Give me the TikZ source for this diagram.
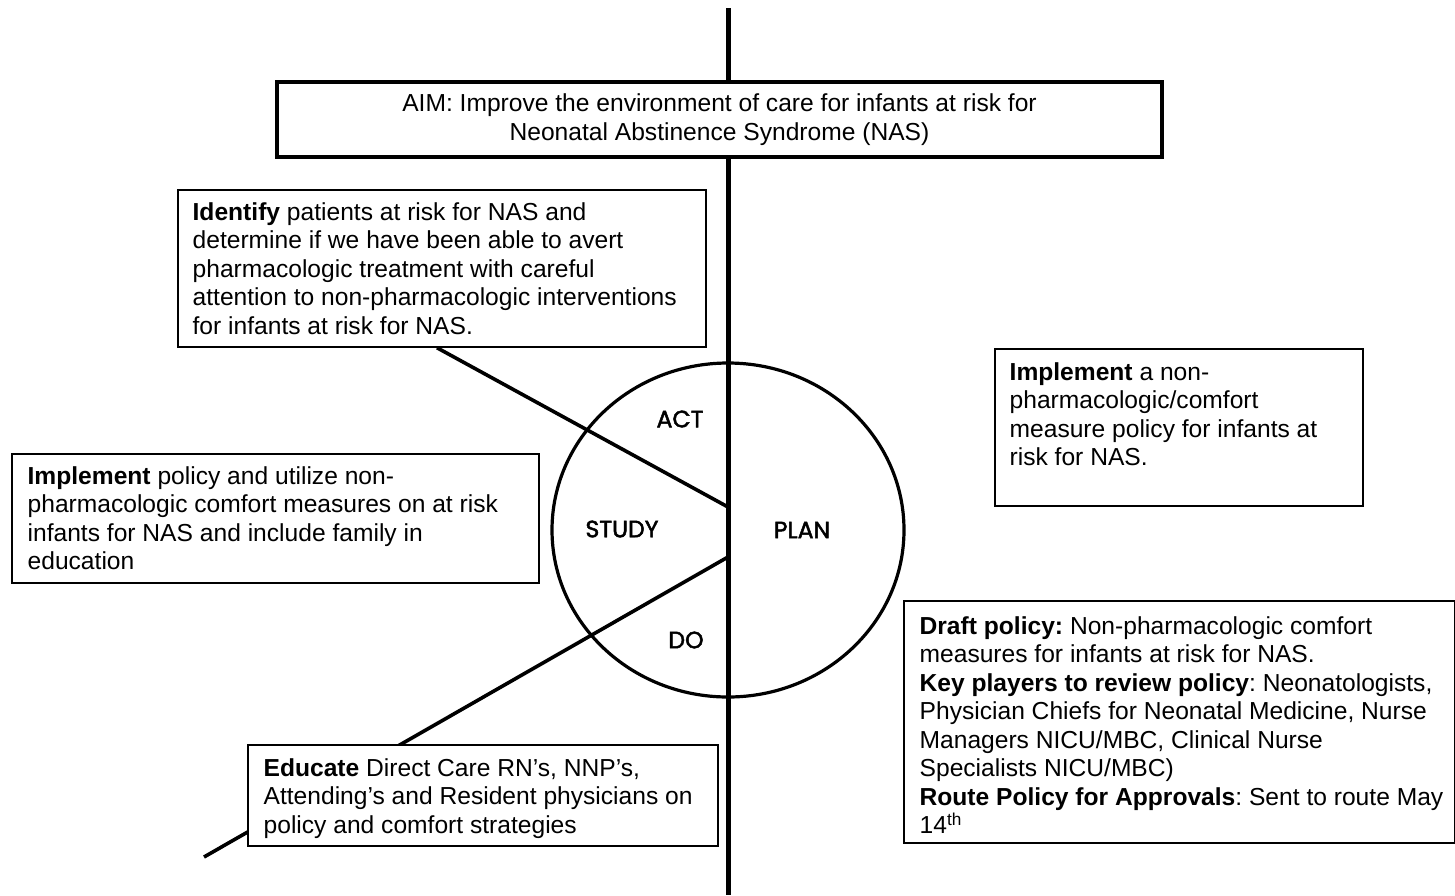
\documentclass[tikz,border=0pt]{standalone}
\usepackage{fontspec}
\setmainfont{Liberation Sans}
\newfontfamily\cyclefont[FakeBold=2]{Poppins}
\usetikzlibrary{positioning,fit}
\frenchspacing

\tikzset{
  box/.style={draw, line width=0.75pt, fill=white, inner sep=0pt},
  boxtext/.style={inner sep=0pt, align=left, font=\fontsize{12.3}{14.25}\selectfont},
  phase/.style={font=\cyclefont\fontsize{11.8}{13}\selectfont},
}

\begin{document}
\begin{tikzpicture}[x=0.5pt,y=-0.5pt]
    \useasboundingbox (0,0) rectangle (1455,895);

    \coordinate (top) at (728,8);
    \coordinate (bottom) at (728,895);
    \coordinate (hub) at (728,530);
    \coordinate (hubA) at (728,507);
    \coordinate (hubD) at (728,557);
    \coordinate (tail) at (204,857);

    % axis and cycle
    \draw[line width=2.5pt] (top) -- (bottom);
    \draw[line width=1.6pt] (hub) ellipse [x radius=176, y radius=167];
    \draw[line width=1.8pt] (hubD) -- (tail);

    \node[phase] (act) at (680,419) {ACT};
    \node[phase] (study) at (622,529) {STUDY};
    \node[phase] (plan) at (802,530) {PLAN};
    \node[phase] (do) at (686,640) {DO};

    % aim
    \node[box, line width=2pt, fit={(277,82) (1162,157)}] (aim) {};
    \node[boxtext, align=center] (aimtext) at (aim.center)
      {AIM: Improve the environment of care for infants at risk for\\
       Neonatal Abstinence Syndrome (NAS)};

    % act
    \node[box, fit={(178,190) (706,347)}] (identify) {};
    \node[boxtext, below right=6.5pt and 7.5pt of identify.north west] (identifytext)
      {\textbf{Identify} patients at risk for NAS and\\
       determine if we have been able to avert\\
       pharmacologic treatment with careful\\
       attention to non-pharmacologic interventions\\
       for infants at risk for NAS.};
    \draw[line width=1.8pt] ([xshift=-2.5pt]identify.south) -- (hubA);

    % plan
    \node[box, fit={(995,349) (1363,506)}] (implplan) {};
    \node[boxtext, below right=7pt and 7.5pt of implplan.north west] (implplantext)
      {\textbf{Implement} a non-\\
       pharmacologic/comfort\\
       measure policy for infants at\\
       risk for NAS.};

    % study
    \node[box, fit={(12,454) (539,583)}] (implstudy) {};
    \node[boxtext, below right=6.5pt and 8pt of implstudy.north west] (implstudytext)
      {\textbf{Implement} policy and utilize non-\\
       pharmacologic comfort measures on at risk\\
       infants for NAS and include family in\\
       education};

    \node[box, fit={(904,601) (1455,843)}] (draft) {};
    \node[boxtext, below right=8pt and 8pt of draft.north west] (drafttext)
      {\textbf{Draft policy:} Non-pharmacologic comfort\\
       measures for infants at risk for NAS.\\
       \textbf{Key players to review policy}: Neonatologists,\\
       Physician Chiefs for Neonatal Medicine, Nurse\\
       Managers NICU/MBC, Clinical Nurse\\
       Specialists NICU/MBC)\\
       \textbf{Route Policy for Approvals}: Sent to route May\\
       14\textsuperscript{th}};

    % do
    \node[box, fit={(248,745) (718,846)}] (educate) {};
    \node[boxtext, below right=7pt and 8pt of educate.north west] (educatetext)
      {\textbf{Educate} Direct Care RN’s, NNP’s,\\
       Attending’s and Resident physicians on\\
       policy and comfort strategies};
\end{tikzpicture}
\end{document}
